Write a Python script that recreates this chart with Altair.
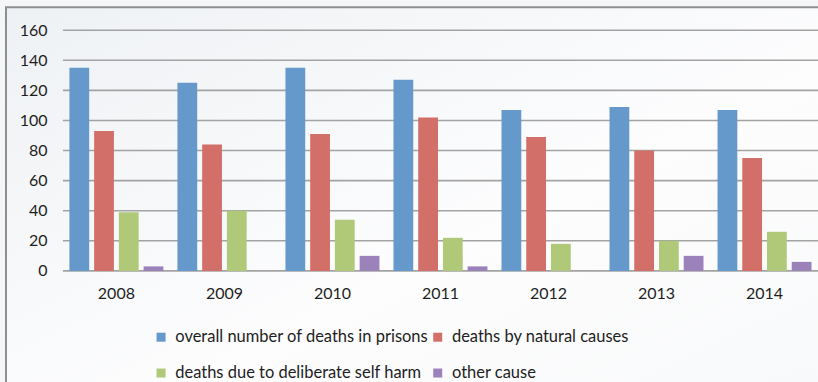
import altair as alt
import pandas as pd

# Deaths in prisons per year, by cause
years = ["2008", "2009", "2010", "2011", "2012", "2013", "2014"]
series = [
    "overall number of deaths in prisons",
    "deaths by natural causes",
    "deaths due to deliberate self harm",
    "other cause",
]
overall = [135, 125, 135, 127, 107, 109, 107]
natural = [93, 84, 91, 102, 89, 80, 75]
self_harm = [39, 40, 34, 22, 18, 20, 26]
other = [3, 0, 10, 3, 0, 10, 6]
y_ticks = [0, 20, 40, 60, 80, 100, 120, 140, 160]
colors = ["#6699CB", "#D26F69", "#AFC978", "#9B82BA"]

rows = []
for name, vals in zip(series, [overall, natural, self_harm, other]):
    for yr, v in zip(years, vals):
        rows.append({"year": yr, "series": name, "value": v})
df = pd.DataFrame(rows)

FONT = "Lato"
W, H = 756, 241

y_scale = alt.Scale(domain=[0, 160])
y_axis = alt.Axis(
    title=None, values=y_ticks, grid=False, domain=False, ticks=False,
    labelPadding=16, labelFontSize=16, labelFont=FONT,
    labelColor="#1E1E1E", labelOverlap=False, zindex=2,
)

# Framed panel with a soft gradient behind the plot
frame = alt.Chart(pd.DataFrame({"k": [0]})).mark_rect(
    fill={
        "gradient": "linear",
        "x1": 0, "y1": 0, "x2": 1, "y2": 1,
        "stops": [
            {"offset": 0, "color": "#EEF1F4"},
            {"offset": 0.55, "color": "#FDFDFE"},
            {"offset": 1, "color": "#F7F8F9"},
        ],
    },
    stroke="#8F8F8F",
    strokeWidth=2,
).encode(
    x=alt.value(-57), y=alt.value(-23), x2=alt.value(800), y2=alt.value(400)
)

# Horizontal gridlines at the tick values
grid = alt.Chart(pd.DataFrame({"value": y_ticks})).mark_rule(
    color="#A3A3A3", strokeWidth=1.6
).encode(y=alt.Y("value:Q", scale=y_scale, axis=y_axis))

bars = alt.Chart(df).mark_bar().encode(
    x=alt.X(
        "year:N",
        sort=years,
        scale=alt.Scale(paddingInner=0.13, paddingOuter=0.06),
        axis=alt.Axis(
            title=None, labelAngle=0, domain=False, ticks=False,
            labelPadding=15, labelFontSize=16, labelFont=FONT,
            labelColor="#1E1E1E", zindex=2,
        ),
    ),
    xOffset=alt.XOffset(
        "series:N", sort=series,
        scale=alt.Scale(paddingInner=0.2, paddingOuter=0),
    ),
    y=alt.Y("value:Q", scale=y_scale, axis=y_axis),
    color=alt.Color(
        "series:N",
        scale=alt.Scale(domain=series, range=colors),
        legend=alt.Legend(
            title=None, orient="none", legendX=90, legendY=299,
            columns=2, direction="horizontal",
            symbolType="square", symbolSize=81, symbolStrokeWidth=0,
            labelFontSize=16.5, labelFont=FONT, labelColor="#1E1E1E",
            labelOffset=6, columnPadding=-11, rowPadding=19,
            labelLimit=400,
        ),
    ),
)

chart = alt.layer(frame, grid, bars).properties(
    width=W, height=H,
    autosize=alt.AutoSizeParams(type="none"),
    padding={"left": 63, "top": 30, "right": 0, "bottom": 111},
    background="#F5F6F7",
).configure_view(stroke=None)

chart.save("out.html", embed_options={"renderer": "svg", "actions": False})
